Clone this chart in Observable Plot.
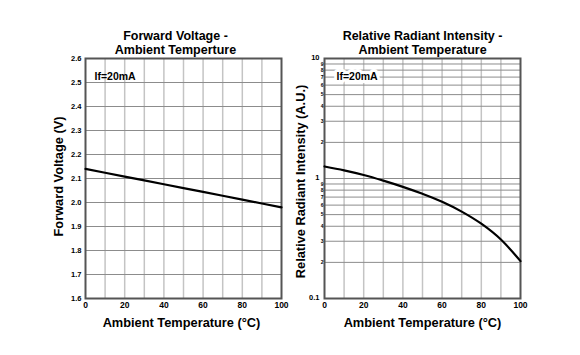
<!DOCTYPE html>
<html>
<head>
<meta charset="utf-8">
<script src="https://cdn.jsdelivr.net/npm/d3@7"></script>
<script src="https://cdn.jsdelivr.net/npm/@observablehq/plot@0.6"></script>
<style>
  html, body { margin: 0; padding: 0; background: #fff; }
  #wrap { position: relative; width: 580px; height: 355px; }
  #wrap svg { position: absolute; top: 0; }
</style>
</head>
<body>
<div id="wrap"></div>
<script>
// ---------- data ----------
const temps = [0, 10, 20, 30, 40, 50, 60, 70, 80, 90, 100];
const forwardVoltage = [2.14, 2.124, 2.108, 2.092, 2.076, 2.06, 2.044, 2.028, 2.012, 1.996, 1.98];
const radiantIntensity = [1.26, 1.17, 1.07, 0.96, 0.852, 0.745, 0.64, 0.53, 0.42, 0.31, 0.205];

const xTickValues = [0, 20, 40, 60, 80, 100];
const xGridValues = [10, 20, 30, 40, 50, 60, 70, 80, 90];
const vTickValues = [1.6, 1.7, 1.8, 1.9, 2.0, 2.1, 2.2, 2.3, 2.4, 2.5, 2.6];
const vGridValues = [1.7, 1.8, 1.9, 2.0, 2.1, 2.2, 2.3, 2.4, 2.5];
const iMajorTicks = [0.1, 1, 10];
const iMajorLabels = ["0.1", "1", "10"];
const iMinorTicks = [0.2, 0.3, 0.4, 0.5, 0.6, 0.7, 0.8, 0.9, 2, 3, 4, 5, 6, 7, 8, 9];
const iMinorLabels = ["2", "3", "4", "5", "6", "7", "8", "9", "2", "3", "4", "5", "6", "7", "8", "9"];
const iGridValues = [0.2, 0.3, 0.4, 0.5, 0.6, 0.7, 0.8, 0.9, 1, 2, 3, 4, 5, 6, 7, 8, 9];

const leftTitle = ["Forward Voltage -", "Ambient Temperture"];
const rightTitle = ["Relative Radiant Intensity -", "Ambient Temperature"];
const xLabel = "Ambient Temperature (°C)";
const leftYLabel = "Forward Voltage (V)";
const rightYLabel = "Relative Radiant Intensity (A.U.)";
const condition = "If=20mA";

const vData = temps.map((t, i) => ({t, v: forwardVoltage[i]}));
const iData = temps.map((t, i) => ({t, v: radiantIntensity[i]}));

const FONT = "'Liberation Sans', Arial, Helvetica, sans-serif";
const style = {fontFamily: FONT, fontWeight: "bold", background: "transparent", color: "black", overflow: "visible"};

// ---------- left chart ----------
const left = Plot.plot({
  width: 290, height: 355,
  marginLeft: 85, marginRight: 9, marginTop: 58, marginBottom: 57,
  style,
  x: {domain: [0, 100], axis: null},
  y: {domain: [1.6, 2.6], axis: null},
  marks: [
    Plot.ruleX(xGridValues, {x: d => d, stroke: "#c4c4c4", strokeWidth: 1.5}),
    Plot.ruleY(vGridValues, {y: d => d, stroke: "#8c8c8c", strokeWidth: 1}),
    Plot.frame({stroke: "#555", strokeWidth: 2}),
    Plot.line(vData, {x: "t", y: "v", stroke: "black", strokeWidth: 2.2}),
    Plot.text(vTickValues, {y: d => d, text: d => d.toFixed(1), frameAnchor: "left", textAnchor: "end", dx: -4, fontSize: 7.5}),
    Plot.text(xTickValues, {x: d => d, text: d => String(d), frameAnchor: "bottom", dy: 9, fontSize: 8.5}),
    Plot.text([condition], {text: d => d, frameAnchor: "top-left", textAnchor: "start", dx: 9, dy: 14, fontSize: 10.5}),
    Plot.text([leftTitle[0]], {text: d => d, frameAnchor: "top", textAnchor: "middle", dx: -8, dy: -27, fontSize: 12.5}),
    Plot.text([leftTitle[1]], {text: d => d, frameAnchor: "top", textAnchor: "middle", dx: -8, dy: -13, fontSize: 12.5}),
    Plot.text([xLabel], {text: d => d, frameAnchor: "bottom", textAnchor: "middle", dx: -2, dy: 28, fontSize: 12.8}),
    Plot.text([leftYLabel], {text: d => d, frameAnchor: "left", textAnchor: "middle", dx: -27, dy: -2, rotate: -90, fontSize: 12.8})
  ]
});
left.style.left = "0px";

// ---------- right chart ----------
const right = Plot.plot({
  width: 290, height: 355,
  marginLeft: 34, marginRight: 60, marginTop: 58, marginBottom: 57,
  style,
  x: {domain: [0, 100], axis: null},
  y: {type: "log", domain: [0.1, 10], axis: null},
  marks: [
    Plot.ruleX(xGridValues, {x: d => d, stroke: "#c4c4c4", strokeWidth: 1.5}),
    Plot.ruleY(iGridValues, {y: d => d, stroke: "#8c8c8c", strokeWidth: 1}),
    Plot.frame({stroke: "#555", strokeWidth: 2}),
    Plot.line(iData, {x: "t", y: "v", stroke: "black", strokeWidth: 2.2, curve: "monotone-x"}),
    Plot.text(iMajorTicks, {y: d => d, text: (d, i) => iMajorLabels[i], frameAnchor: "left", textAnchor: "end", dx: -5, dy: -1, fontSize: 7.5}),
    Plot.text(iMinorTicks, {y: d => d, text: (d, i) => iMinorLabels[i], frameAnchor: "left", textAnchor: "end", dx: -1, fontSize: 5}),
    Plot.text(xTickValues, {x: d => d, text: d => String(d), frameAnchor: "bottom", dy: 9, fontSize: 8.5}),
    Plot.text([condition], {text: d => d, frameAnchor: "top-left", textAnchor: "start", dx: 12, dy: 14, fontSize: 10.5, stroke: "white", strokeWidth: 6, fill: "black", paintOrder: "stroke"}),
    Plot.text([rightTitle[0]], {text: d => d, frameAnchor: "top", textAnchor: "middle", dx: 0, dy: -27, fontSize: 12.5}),
    Plot.text([rightTitle[1]], {text: d => d, frameAnchor: "top", textAnchor: "middle", dx: 0, dy: -13, fontSize: 12.5}),
    Plot.text([xLabel], {text: d => d, frameAnchor: "bottom", textAnchor: "middle", dx: 0, dy: 28, fontSize: 12.8}),
    Plot.text([rightYLabel], {text: d => d, frameAnchor: "left", textAnchor: "middle", dx: -24, dy: 3, rotate: -90, fontSize: 12.8})
  ]
});
right.style.left = "290px";

const wrap = document.getElementById("wrap");
wrap.appendChild(left);
wrap.appendChild(right);
</script>
</body>
</html>
